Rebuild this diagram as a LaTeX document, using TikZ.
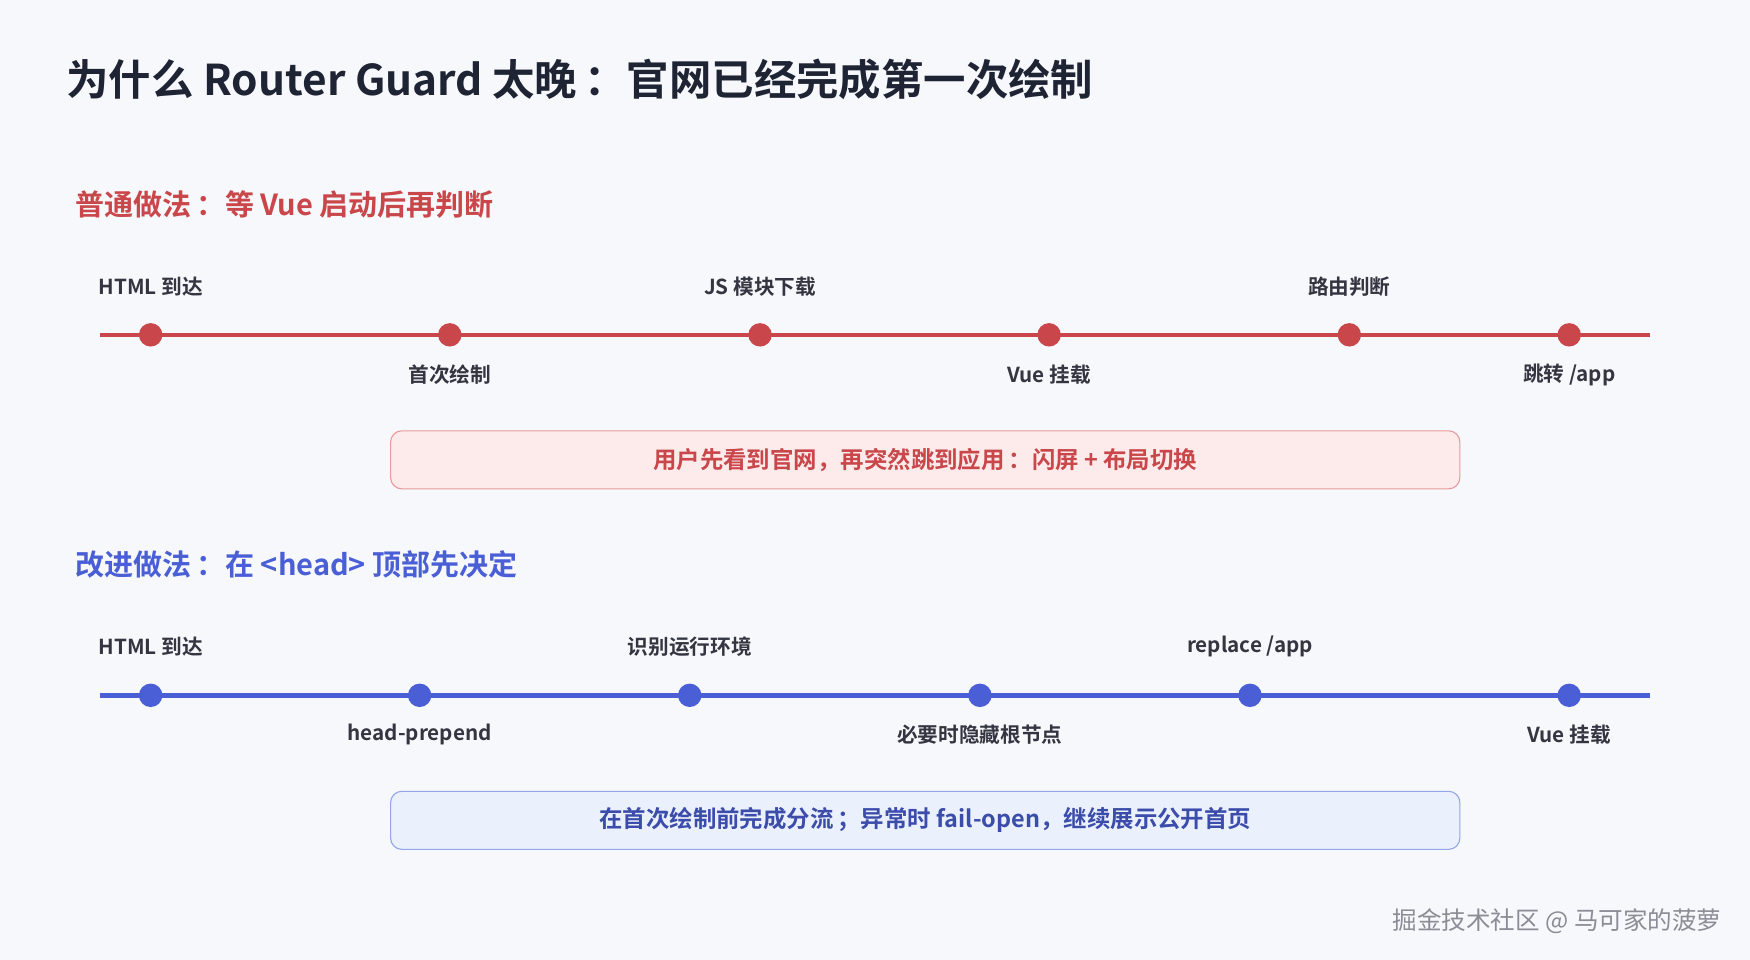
\documentclass[tikz,border=0pt]{standalone}
\usepackage{fontspec}
\setmainfont{Noto Sans CJK SC}[BoldFont={Noto Sans CJK SC Bold}]
\definecolor{bg}{HTML}{F7F8FC}
\definecolor{ttl}{HTML}{1E2433}
\definecolor{red1}{HTML}{C9474B}
\definecolor{blu1}{HTML}{4A5FD6}
\definecolor{lab}{HTML}{333640}
\definecolor{pinkf}{HTML}{FDEBEB}
\definecolor{pinkd}{HTML}{E79A9C}
\definecolor{bluef}{HTML}{EBF0FD}
\definecolor{blued}{HTML}{93A6E6}
\definecolor{wm}{HTML}{8A8D95}
\begin{document}
\begin{tikzpicture}[x=1pt,y=-1pt,
 lbl/.style={font=\fontsize{18.5}{20}\selectfont\bfseries,text=lab},
 rdot/.style={circle,fill=red1,minimum size=21,inner sep=0},
 bdot/.style={circle,fill=blu1,minimum size=21,inner sep=0},
 hdr/.style={font=\fontsize{26}{28}\selectfont\bfseries,anchor=west},
 note/.style={rounded corners=10,minimum width=958,minimum height=52,font=\fontsize{21}{22}\selectfont\bfseries,line width=1}]
\fill[bg] (0,0) rectangle (1568,860);
\useasboundingbox (0,0) rectangle (1568,860);
\node[anchor=west,text=ttl,font=\fontsize{38}{42}\selectfont\bfseries] (title) at (56,71) {为什么 Router Guard 太晚\,：官网已经完成第一次绘制};
% red section
\node[hdr,text=red1] (h1) at (64,183) {普通做法\,：等 Vue 启动后再判断};
\coordinate (r0) at (90,300); \coordinate (r9) at (1478,300);
\draw[red1,line width=4] (r0) -- (r9);
\foreach \n/\x in {a/135,b/403,c/681,d/940,e/1209,f/1406} \node[rdot] (r\n) at (\x,300) {};
\node[lbl] (ra-l) at (135,257) {HTML 到达};
\node[lbl] (rc-l) at (681,257) {JS 模块下载};
\node[lbl] (re-l) at (1209,257) {路由判断};
\node[lbl] (rb-l) at (403,336) {首次绘制};
\node[lbl] (rd-l) at (940,336) {Vue 挂载};
\node[lbl] (rf-l) at (1406,336) {跳转 /app};
\node[note,fill=pinkf,draw=pinkd,text=red1] (n1) at (829,412) {用户先看到官网，再突然跳到应用\,：闪屏 + 布局切换};
% blue section
\node[hdr,text=blu1] (h2) at (64,506) {改进做法\,：在 <head> 顶部先决定};
\coordinate (b0) at (90,623); \coordinate (b9) at (1478,623);
\draw[blu1,line width=4] (b0) -- (b9);
\foreach \n/\x in {a/135,b/376,c/618,d/878,e/1120,f/1406} \node[bdot] (b\n) at (\x,623) {};
\node[lbl] (ba-l) at (135,579) {HTML 到达};
\node[lbl] (bc-l) at (618,579) {识别运行环境};
\node[lbl] (be-l) at (1120,579) {replace /app};
\node[lbl] (bb-l) at (376,658) {head-prepend};
\node[lbl] (bd-l) at (878,658) {必要时隐藏根节点};
\node[lbl] (bf-l) at (1406,658) {Vue 挂载};
\node[note,fill=bluef,draw=blued,text=blu1!80!black] (n2) at (829,735) {在首次绘制前完成分流\,；异常时 fail-open，继续展示公开首页};
\node[anchor=east,text=wm,font=\fontsize{22}{24}\selectfont] (wm) at (1546,825) {掘金技术社区 @ 马可家的菠萝};
\end{tikzpicture}
\end{document}
